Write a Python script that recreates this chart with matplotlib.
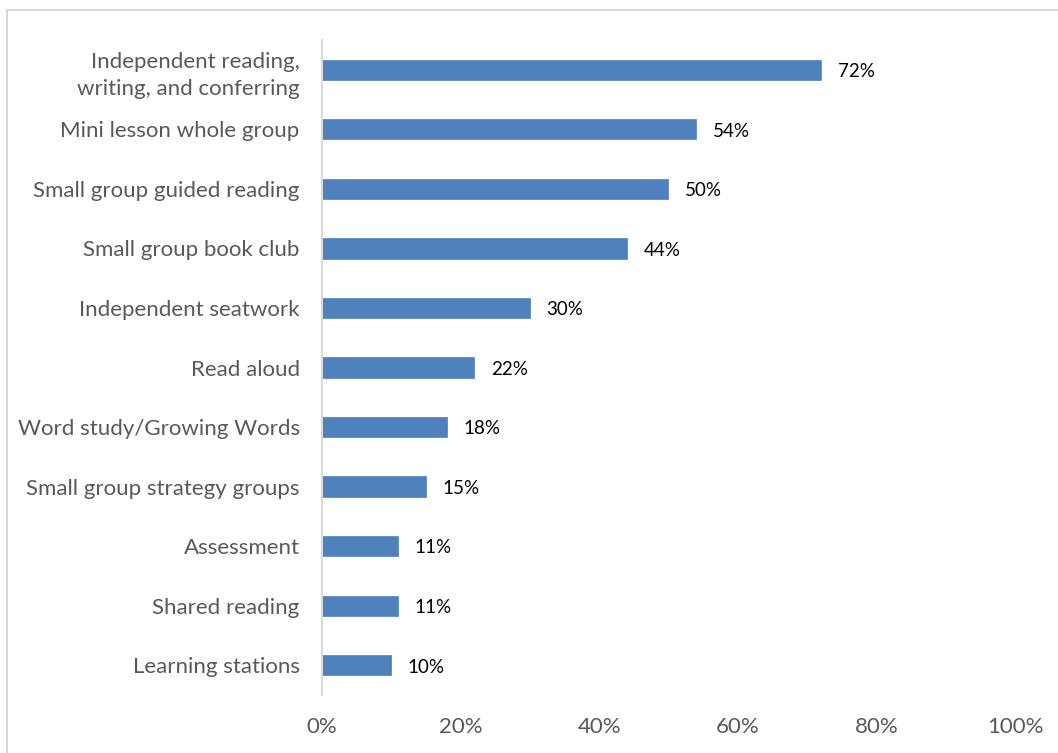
import matplotlib.pyplot as plt
from matplotlib.patches import Rectangle

plt.rcParams['font.family'] = ['Lato', 'DejaVu Sans']

activities = [
    "Independent reading,\nwriting, and conferring",
    "Mini lesson whole group",
    "Small group guided reading",
    "Small group book club",
    "Independent seatwork",
    "Read aloud",
    "Word study/Growing Words",
    "Small group strategy groups",
    "Assessment",
    "Shared reading",
    "Learning stations",
]
percent = [72, 54, 50, 44, 30, 22, 18, 15, 11, 11, 10]
xticks = [0, 20, 40, 60, 80, 100]

fig = plt.figure(figsize=(10.58, 7.53), dpi=100)
ax = fig.add_axes([0.3043, 0.077, 0.6551, 0.8699])

ypos = list(range(len(activities)))
ax.barh(ypos, percent, height=0.34, color='#4F81BD', edgecolor='#5B8BC6', linewidth=0.6)
for y, v in zip(ypos, percent):
    ax.text(v + 2.4, y + 0.03, f"{v}%", va='center', ha='left', fontsize=13.5, color='black')

ax.set_ylim(len(activities) - 0.5, -0.5)
ax.set_xlim(0, 100)
ax.set_yticks(ypos)
ax.set_yticklabels(activities, fontsize=16, color='#595959', linespacing=1.45)
ax.set_xticks(xticks)
ax.set_xticklabels([f"{t}%" for t in xticks], fontsize=16, color='#595959')
ax.tick_params(axis='both', length=0)
ax.tick_params(axis='y', pad=16)
ax.tick_params(axis='x', pad=16)

for s in ['top', 'right', 'bottom']:
    ax.spines[s].set_visible(False)
ax.spines['left'].set_color('#D9D9D9')
ax.spines['left'].set_linewidth(1.5)

# outer chart border
fig.patches.append(Rectangle((7 / 1058, -0.01), 1.02, 1 - 10 / 753 + 0.01,
                             transform=fig.transFigure, fill=False,
                             edgecolor='#D9D9D9', linewidth=1.5))

fig.savefig('out.png', dpi=100)
